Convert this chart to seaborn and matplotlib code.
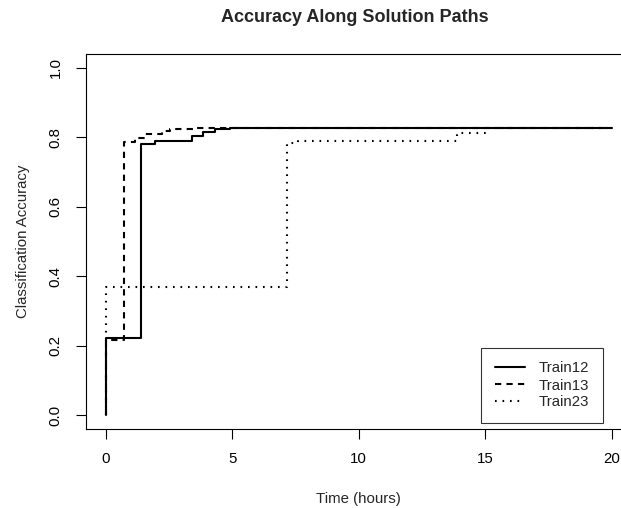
import numpy as np
import pandas as pd
import matplotlib
matplotlib.use("Agg")
import matplotlib.pyplot as plt
import seaborn as sns
from matplotlib.lines import Line2D

# step data (time in hours, accuracy after each step)
times12 = [0, 0, 1.39, 1.94, 3.39, 3.84, 4.31, 4.9, 20]
acc12 = [0, 0.222, 0.781, 0.790, 0.805, 0.816, 0.824, 0.827, 0.827]

times13 = [0, 0, 0.72, 1.15, 1.54, 2.2, 2.53, 3.6, 20]
acc13 = [0, 0.215, 0.787, 0.797, 0.809, 0.818, 0.825, 0.828, 0.828]

times23 = [0, 0, 7.15, 7.6, 13.88, 15.0, 20]
acc23 = [0, 0.370, 0.783, 0.790, 0.812, 0.826, 0.826]

names = ["Train12", "Train13", "Train23"]
styles = ["-", (0, (3, 2.5)), (0, (0.8, 2.8))]

xticks = [0, 5, 10, 15, 20]
yticks = [0.0, 0.2, 0.4, 0.6, 0.8, 1.0]

sns.set_style("ticks")
plt.rcParams["font.family"] = ["Liberation Sans", "DejaVu Sans"]

fig = plt.figure(figsize=(6.21, 5.08), dpi=100)
ax = fig.add_axes([85.8 / 621, (508 - 429) / 508, 546 / 621, 375 / 508])

handles = []
for name, t, a, ls in zip(names, [times12, times13, times23], [acc12, acc13, acc23], styles):
    df = pd.DataFrame({"time": t, "acc": a})
    sns.lineplot(data=df, x="time", y="acc", estimator=None, sort=False,
                 drawstyle="steps-post", color="black", linewidth=1.5,
                 linestyle=ls, ax=ax)
    handles.append(Line2D([], [], color="black", linewidth=1.5, linestyle=ls, label=name))

ax.set_xlim(-0.8, 20.8)
ax.set_ylim(-0.04, 1.04)
ax.set_xticks(xticks)
ax.set_xticklabels([str(v) for v in xticks])
ax.set_yticks(yticks)
ax.set_yticklabels(["%.1f" % v for v in yticks])
plt.setp(ax.get_yticklabels(), rotation=90, va="center")

for s in ax.spines.values():
    s.set_visible(True)
    s.set_linewidth(0.8)
    s.set_color("black")
ax.tick_params(direction="out", length=7.2, width=0.8, pad=9.4, labelsize=10.8, colors="black")

ax.set_xlabel("Time (hours)", fontsize=10.8)
ax.set_ylabel("Classification Accuracy", fontsize=10.8)
ax.xaxis.set_label_coords(0.5, -0.168)
ax.yaxis.set_label_coords(-0.1026, 0.5)

ax.set_title("Accuracy Along Solution Paths", fontsize=13, fontweight="bold", pad=23, x=0.492)

leg = ax.legend(handles=handles, loc="lower right", bbox_to_anchor=(0.947, 0.016),
                fontsize=10.8, frameon=True, fancybox=False, handlelength=2.0,
                handletextpad=0.93, labelspacing=0.2, borderpad=0.9, borderaxespad=0)
leg.get_frame().set_edgecolor("black")
leg.get_frame().set_linewidth(0.8)

fig.savefig("out.png", dpi=100)
